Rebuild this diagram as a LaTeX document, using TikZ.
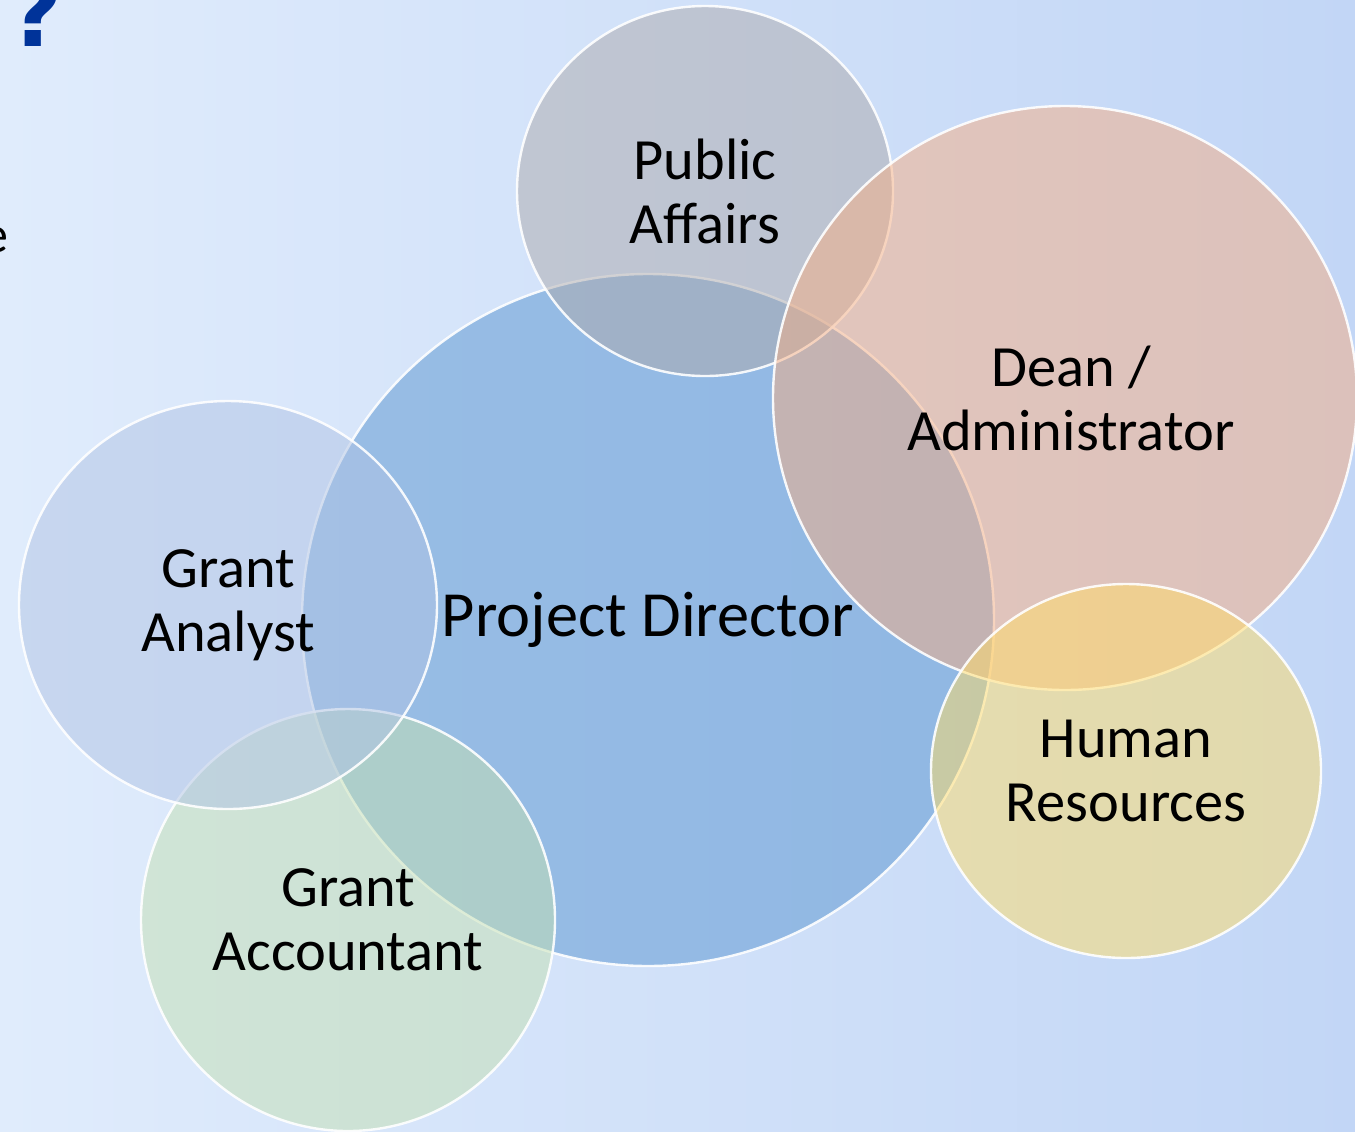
\documentclass[tikz,border=0pt]{standalone}
\usepackage{fontspec}
\setmainfont{Carlito}
\newfontfamily\qfont{DejaVu Sans}
\usetikzlibrary{shapes.geometric}
\definecolor{bgL}{RGB}{224,236,252}
\definecolor{bgR}{RGB}{194,214,246}
\definecolor{cPD}{RGB}{88,148,208}
\definecolor{cPA}{RGB}{173,170,172}
\definecolor{cDean}{RGB}{246,174,130}
\definecolor{cHR}{RGB}{255,220,103}
\definecolor{cGAn}{RGB}{176,195,228}
\definecolor{cGAc}{RGB}{196,224,178}
\definecolor{qblue}{RGB}{0,51,153}
\begin{document}
\begin{tikzpicture}[x=0.5pt,y=-0.5pt,
  venn/.style={ellipse, draw=white, line width=1.2pt, fill opacity=0.5, draw opacity=0.9,
    text opacity=1, inner sep=0pt, align=center, text=black,
    font=\fontsize{29.2}{32}\selectfont}]
\useasboundingbox (0,0) rectangle (1355,1131);
\clip (0,0) rectangle (1355,1131);
\shade[left color=bgL, right color=bgR] (0,0) rectangle (1355,1131);
\node[anchor=base west, inner sep=0pt, text=qblue, font=\qfont\bfseries\fontsize{46}{50}\selectfont] (q) at (9,46) {?};
\node[anchor=base east, inner sep=0pt, font=\fontsize{26}{30}\selectfont] (e) at (9,252) {e};
\node[venn, fill=cPD, minimum width=346pt, minimum height=346pt, font=\fontsize{32.2}{36}\selectfont] (pd) at (648,620) {\raisebox{-3pt}{Project Director}};
\node[venn, fill=cGAc, minimum width=207pt, minimum height=211pt] (gac) at (348,920) {Grant\\Accountant};
\node[venn, fill=cGAn, minimum width=209pt, minimum height=204pt] (gan) at (228,605) {Grant\\Analyst};
\node[venn, fill=cPA, minimum width=188pt, minimum height=185pt] (pa) at (705,191) {Public\\Affairs};
\node[venn, fill=cDean, minimum width=292pt, minimum height=292pt] (dean) at (1065,398) {\hspace*{6pt}Dean /\\\hspace*{6pt}Administrator};
\node[venn, fill=cHR, minimum width=195pt, minimum height=187pt] (hr) at (1126,771) {Human\\Resources};
\end{tikzpicture}
\end{document}
